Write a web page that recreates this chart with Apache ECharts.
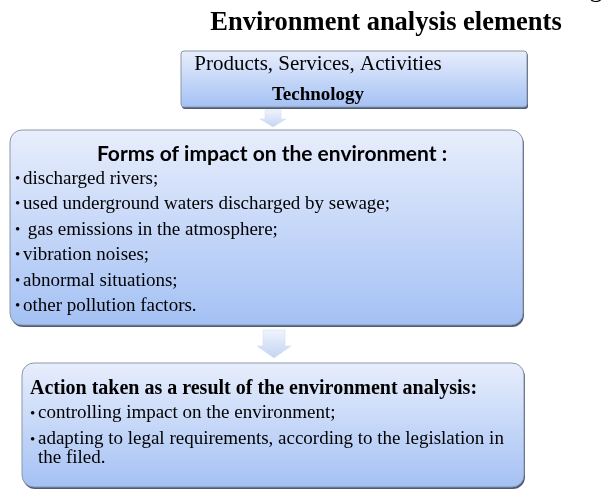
<!DOCTYPE html>
<html><head><meta charset="utf-8">
<script src="https://cdn.jsdelivr.net/npm/echarts@6/dist/echarts.min.js"></script>
<style>html,body{margin:0;padding:0;background:#fff}#c{width:612px;height:497px}</style>
</head><body><div id="c"></div>
<script>
// ---- content ----
const titleText = 'Environment analysis elements';
const topFragment = 'g';
const sourceLines = ['Products, Services, Activities', 'Technology'];
const impactTitle = 'Forms of impact on the environment :';
const impactItems = [
  'discharged rivers;',
  'used underground waters discharged by sewage;',
  ' gas emissions in the atmosphere;',
  'vibration noises;',
  'abnormal situations;',
  'other pollution factors.'
];
const actionTitle = 'Action taken as a result of the environment analysis:';
const actionItems = [
  'controlling impact on the environment;',
  'adapting to legal requirements, according to the legislation in\nthe filed.'
];

// ---- drawing ----
const chart = echarts.init(document.getElementById('c'), null, {renderer: 'canvas'});
const SERIF = '"Liberation Serif"';
function grad(c0, c1) {
  return new echarts.graphic.LinearGradient(0, 0, 0, 1, [
    {offset: 0, color: c0}, {offset: 1, color: c1}
  ]);
}
function box(x, y, w, h, r) {
  return [
    {type: 'rect', shape: {x: x + 1, y: y + 2, width: w, height: h, r: r}, style: {fill: '#4b5b7a'}, silent: true},
    {type: 'rect', shape: {x: x, y: y, width: w, height: h, r: r},
      style: {fill: grad('#e8eefc', '#a4c1f4'), stroke: '#8e97a6', lineWidth: 1}, silent: true}
  ];
}
function arrow(cx, top, shaftW, headW, shaftH, headH) {
  const s = shaftW / 2, hw = headW / 2;
  return {type: 'polygon', shape: {points: [
    [cx - s, top], [cx + s, top], [cx + s, top + shaftH], [cx + hw, top + shaftH],
    [cx, top + shaftH + headH], [cx - hw, top + shaftH], [cx - s, top + shaftH]
  ]}, style: {fill: grad('#f0f4fd', '#c3d3f2'), stroke: '#d0daf0', lineWidth: 0.5}, silent: true};
}
function txt(x, y, text, font, align) {
  return {type: 'text', x: x, y: y, silent: true,
    style: {text: text, font: font, fill: '#000', align: align || 'left', verticalAlign: 'middle'}};
}

const els = [];
els.push(txt(596, -10, topFragment, '26px ' + SERIF, 'center'));
els.push(txt(386, 23, titleText, 'bold 26.5px ' + SERIF, 'center'));

// box 1
els.push(...box(181, 51, 346, 56, 3));
els.push(txt(318, 64, sourceLines[0], '21px ' + SERIF, 'center'));
els.push(txt(318, 95, sourceLines[1], 'bold 19px ' + SERIF, 'center'));
els.push(arrow(273, 110, 16, 26, 9, 8));

// box 2
els.push(...box(10, 130, 513, 195, 12));
els.push(txt(272, 154, impactTitle, 'bold 21px Lato', 'center'));
impactItems.forEach((s, i) => {
  const y = 179 + i * 25.5;
  els.push(txt(15, y, '\u2022', '15px ' + SERIF, 'left'));
  els.push(txt(23, y, s, '19px ' + SERIF, 'left'));
});
els.push(arrow(274, 330, 22, 34, 16, 12));

// box 3
els.push(...box(22, 363, 502, 124, 12));
els.push(txt(30, 389, actionTitle, 'bold 20px ' + SERIF, 'left'));
const actY = [414, 440];
actionItems.forEach((s, i) => {
  els.push(txt(30, actY[i], '\u2022', '15px ' + SERIF, 'left'));
  els.push({type: 'text', x: 38, y: actY[i] - 10, silent: true,
    style: {text: s, font: '19px ' + SERIF, fill: '#000', align: 'left', verticalAlign: 'top', lineHeight: 19}});
});

chart.setOption({animation: false, graphic: {elements: els}});
</script>
</body></html>
